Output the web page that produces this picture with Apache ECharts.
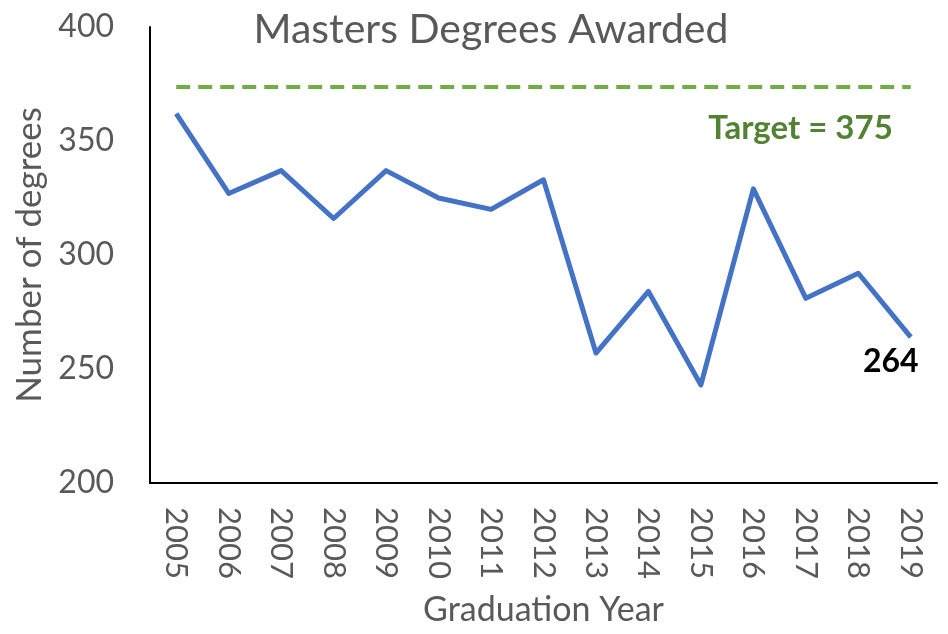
<!DOCTYPE html>
<html>
<head>
<meta charset="utf-8">
<script src="https://cdn.jsdelivr.net/npm/echarts@6/dist/echarts.min.js"></script>
<style>
  html, body { margin: 0; padding: 0; background: #fff; }
  #chart { width: 948px; height: 634px; }
</style>
</head>
<body>
<div id="chart"></div>
<script>
// 数据
var years = ["2005", "2006", "2007", "2008", "2009", "2010", "2011", "2012",
             "2013", "2014", "2015", "2016", "2017", "2018", "2019"];
var degrees = [362, 327, 337, 316, 337, 325, 320, 333, 257, 284, 243, 329, 281, 292, 264];
var target = 375;      // 标注文字
var targetLine = 374;  // 虚线在图上的位置
var yTicks = [200, 250, 300, 350, 400];

var font = "Lato";
var myChart = echarts.init(document.getElementById("chart"));

var option = {
  animation: false,
  title: {
    text: "Masters Degrees Awarded",
    left: 486,
    textAlign: "center",
    top: 4,
    textStyle: { fontFamily: font, fontSize: 41, fontWeight: "normal", color: "#595959" }
  },
  grid: { left: 150, right: 11, top: 27, bottom: 151 },
  xAxis: {
    type: "category",
    data: years,
    boundaryGap: true,
    name: "Graduation Year",
    nameLocation: "middle",
    nameGap: 110,
    nameTextStyle: { fontFamily: font, fontSize: 34, color: "#595959" },
    axisLine: { lineStyle: { color: "#000", width: 2 } },
    axisTick: { show: false },
    axisLabel: {
      rotate: -90,
      margin: 24,
      fontFamily: font,
      fontSize: 31,
      color: "#595959"
    }
  },
  yAxis: {
    type: "value",
    min: yTicks[0],
    max: yTicks[yTicks.length - 1],
    interval: 50,
    name: "Number of degrees",
    nameLocation: "middle",
    nameGap: 97,
    nameTextStyle: { fontFamily: font, fontSize: 35, color: "#595959" },
    axisLine: { show: true, lineStyle: { color: "#000", width: 2 } },
    axisTick: { show: false },
    splitLine: { show: false },
    axisLabel: { margin: 36, fontFamily: font, fontSize: 32, color: "#595959" }
  },
  series: [
    {
      type: "line",
      data: degrees.map(function (v, i) {
        if (i === degrees.length - 1) {
          return {
            value: v,
            label: {
              show: true,
              position: "bottom",
              distance: 8,
              offset: [-20, 0],
              fontFamily: font,
              fontSize: 32,
              fontWeight: "bold",
              color: "#000"
            }
          };
        }
        return v;
      }),
      showSymbol: true,
      symbol: "circle",
      symbolSize: 1,
      itemStyle: { color: "rgba(0,0,0,0)" },
      lineStyle: { color: "#4472C4", width: 5, join: "round" },
      markLine: {
        symbol: "none",
        silent: true,
        lineStyle: { color: "#70AD47", type: [14, 8], width: 4 },
        label: {
          show: true,
          position: "insideEndBottom",
          distance: [0, 26],
          padding: [0, 18, 0, 0],
          formatter: "Target = " + target,
          fontFamily: font,
          fontSize: 33,
          fontWeight: "bold",
          color: "#548235"
        },
        data: [[
          { coord: [years[0], targetLine] },
          { coord: [years[years.length - 1], targetLine] }
        ]]
      }
    }
  ]
};

myChart.setOption(option);
</script>
</body>
</html>
